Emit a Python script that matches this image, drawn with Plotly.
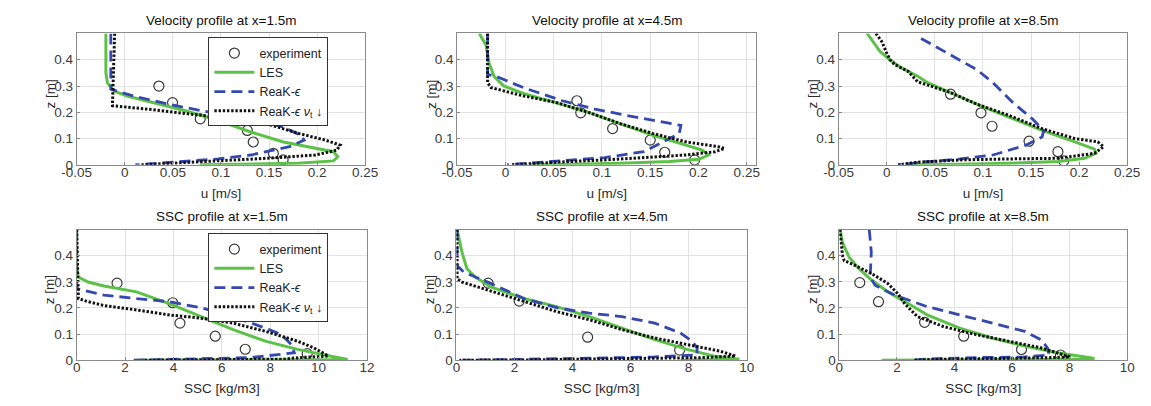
import plotly.graph_objects as go

W, H = 1151, 406

# ---------------- DATA ----------------
# Velocity profile at x=1.5m
v1_exp_u = [0.0355, 0.0497, 0.0785, 0.1275, 0.1336, 0.1545, 0.1647]
v1_exp_z = [0.300, 0.237, 0.175, 0.131, 0.087, 0.044, 0.019]
v1_les_u = [-0.0196, -0.0196, -0.0180, -0.011, 0.0024, 0.0294, 0.063, 0.097, 0.131, 0.165, 0.198, 0.217, 0.2215, 0.217, 0.180, 0.130, 0.078]
v1_les_z = [0.500, 0.350, 0.312, 0.281, 0.262, 0.237, 0.206, 0.169, 0.125, 0.087, 0.062, 0.050, 0.031, 0.015, 0.006, 0.003, 0.000]
v1_rke_u = [-0.0145, -0.0145, -0.0145, 0.0091, 0.053, 0.097, 0.1376, 0.1647, 0.183, 0.1866, 0.1714, 0.131, 0.097, 0.0464, 0.011]
v1_rke_z = [0.500, 0.300, 0.288, 0.262, 0.225, 0.194, 0.169, 0.144, 0.1125, 0.094, 0.069, 0.0375, 0.0225, 0.009, 0.000]
v1_nu_u = [-0.0105, -0.0128, -0.0128, 0.0294, 0.097, 0.148, 0.1815, 0.2087, 0.224, 0.2205, 0.1985, 0.148, 0.097, 0.0464, 0.016]
v1_nu_z = [0.500, 0.231, 0.225, 0.210, 0.181, 0.156, 0.119, 0.094, 0.075, 0.056, 0.0375, 0.025, 0.016, 0.006, 0.000]

# Velocity profile at x=4.5m
v2_exp_u = [0.074, 0.078, 0.111, 0.150, 0.165, 0.196]
v2_exp_z = [0.244, 0.198, 0.138, 0.094, 0.048, 0.019]
v2_les_u = [-0.027, -0.0202, -0.0169, -0.0118, -0.0017, 0.0185, 0.0522, 0.0859, 0.1195, 0.153, 0.1869, 0.2037, 0.2104, 0.2003, 0.170, 0.1195, 0.069, 0.025]
v2_les_z = [0.500, 0.456, 0.387, 0.337, 0.300, 0.272, 0.237, 0.200, 0.156, 0.1125, 0.075, 0.056, 0.0375, 0.021, 0.0125, 0.006, 0.0025, 0.000]
v2_rke_u = [-0.0185, -0.0185, -0.0084, 0.0185, 0.0589, 0.0926, 0.1263, 0.160, 0.1818, 0.180, 0.1633, 0.1431, 0.1027, 0.0522, 0.0017]
v2_rke_z = [0.500, 0.344, 0.335, 0.294, 0.244, 0.2125, 0.1875, 0.165, 0.150, 0.119, 0.0875, 0.050, 0.0275, 0.0125, 0.000]
v2_nu_u = [-0.0185, -0.0185, -0.015, 0.0185, 0.0522, 0.0859, 0.1195, 0.153, 0.1869, 0.2205, 0.227, 0.2172, 0.1869, 0.1465, 0.1027, 0.0522, 0.005]
v2_nu_z = [0.500, 0.3125, 0.294, 0.2625, 0.2375, 0.200, 0.156, 0.119, 0.0875, 0.069, 0.0625, 0.050, 0.0375, 0.0275, 0.01875, 0.010, 0.000]

# Velocity profile at x=8.5m
v3_exp_u = [0.0663, 0.098, 0.1095, 0.148, 0.178, 0.184]
v3_exp_z = [0.269, 0.198, 0.147, 0.090, 0.050, 0.015]
v3_les_u = [-0.0204, -0.0068, 0.0034, 0.0153, 0.0323, 0.0425, 0.0663, 0.0936, 0.1276, 0.1615, 0.1956, 0.216, 0.2177, 0.2058, 0.1786, 0.1276, 0.0765, 0.0187]
v3_les_z = [0.500, 0.431, 0.400, 0.369, 0.3375, 0.3125, 0.275, 0.231, 0.181, 0.131, 0.0875, 0.060, 0.044, 0.025, 0.0125, 0.006, 0.0025, 0.000]
v3_rke_u = [0.0357, 0.063, 0.0936, 0.1105, 0.131, 0.1514, 0.1633, 0.1615, 0.1446, 0.1105, 0.0765, 0.0357, 0.0119]
v3_rke_z = [0.481, 0.425, 0.3625, 0.3125, 0.2375, 0.175, 0.131, 0.106, 0.075, 0.0375, 0.0225, 0.010, 0.000]
v3_nu_u = [-0.0112, -0.0051, 0.000, 0.0034, 0.0085, 0.0221, 0.0323, 0.0663, 0.0936, 0.1276, 0.1615, 0.1956, 0.2194, 0.2255, 0.216, 0.1786, 0.1276, 0.0765, 0.0323, 0.0119]
v3_nu_z = [0.500, 0.469, 0.425, 0.400, 0.381, 0.356, 0.316, 0.275, 0.231, 0.1875, 0.1375, 0.100, 0.0875, 0.069, 0.044, 0.025, 0.0225, 0.01875, 0.010, 0.000]

# SSC profile at x=1.5m
c1_exp_c = [1.67, 3.97, 4.27, 5.73, 6.97, 9.53]
c1_exp_z = [0.295, 0.220, 0.142, 0.092, 0.042, 0.025]
c1_les_c = [0.0, 0.0, 0.07, 0.47, 1.13, 2.47, 3.80, 5.13, 6.47, 7.80, 9.13, 10.47, 11.07, 11.2, 2.5]
c1_les_z = [0.500, 0.350, 0.318, 0.299, 0.284, 0.2615, 0.2175, 0.167, 0.117, 0.073, 0.0415, 0.016, 0.0075, 0.003, 0.000]
c1_rke_c = [0.0, 0.0, 0.07, 1.13, 2.47, 3.80, 5.13, 6.47, 7.80, 8.47, 8.87, 9.00, 7.20, 4.80, 2.80, 2.33]
c1_rke_z = [0.500, 0.280, 0.272, 0.249, 0.236, 0.224, 0.201, 0.167, 0.123, 0.098, 0.060, 0.0287, 0.010, 0.006, 0.002, 0.000]
c1_nu_c = [0.0, 0.07, 0.47, 1.13, 2.47, 3.80, 5.13, 6.47, 7.80, 9.13, 9.80, 10.40, 9.20, 8.53, 6.80, 4.13, 2.80]
c1_nu_z = [0.500, 0.236, 0.224, 0.209, 0.1925, 0.1736, 0.161, 0.142, 0.1106, 0.073, 0.0475, 0.016, 0.010, 0.004, 0.003, 0.002, 0.000]

# SSC profile at x=4.5m
c2_exp_c = [1.09, 2.16, 4.52, 7.69]
c2_exp_z = [0.295, 0.226, 0.088, 0.039]
c2_les_c = [0.02, 0.19, 0.36, 0.64, 1.20, 2.33, 3.45, 4.58, 5.70, 6.83, 7.95, 8.85, 9.75, 7.72]
c2_les_z = [0.500, 0.4125, 0.350, 0.318, 0.280, 0.236, 0.205, 0.167, 0.123, 0.079, 0.0415, 0.016, 0.004, 0.000]
c2_rke_c = [0.02, 0.02, 0.25, 1.20, 2.33, 3.45, 4.58, 5.70, 6.83, 7.72, 8.12, 8.29, 8.29, 6.83, 4.58, 3.00, 0.20]
c2_rke_z = [0.500, 0.362, 0.337, 0.293, 0.236, 0.201, 0.180, 0.167, 0.142, 0.104, 0.073, 0.0475, 0.020, 0.0125, 0.0075, 0.004, 0.000]
c2_nu_c = [0.02, 0.02, 0.19, 1.20, 2.33, 3.45, 4.58, 5.70, 6.83, 7.95, 9.07, 9.62, 8.51, 6.83, 4.58, 2.33, 0.10]
c2_nu_z = [0.500, 0.312, 0.299, 0.264, 0.224, 0.186, 0.155, 0.117, 0.085, 0.060, 0.035, 0.016, 0.010, 0.0075, 0.004, 0.001, 0.000]

# SSC profile at x=8.5m
c3_exp_c = [0.71, 1.36, 2.96, 4.32, 6.33, 7.68]
c3_exp_z = [0.297, 0.224, 0.145, 0.092, 0.041, 0.020]
c3_les_c = [0.02, 0.11, 0.34, 0.68, 1.13, 1.69, 2.48, 3.05, 4.18, 5.31, 6.44, 7.57, 8.81, 8.85, 1.47]
c3_les_z = [0.500, 0.450, 0.394, 0.350, 0.306, 0.2615, 0.211, 0.1736, 0.123, 0.085, 0.054, 0.0287, 0.0075, 0.004, 0.000]
c3_rke_c = [1.04, 1.11, 1.07, 1.24, 1.92, 3.05, 4.18, 5.31, 6.44, 7.00, 7.23, 7.29, 6.44, 4.75, 3.05, 2.60]
c3_rke_z = [0.500, 0.4125, 0.318, 0.287, 0.249, 0.205, 0.1736, 0.142, 0.1106, 0.079, 0.0475, 0.020, 0.0125, 0.010, 0.005, 0.000]
c3_nu_c = [0.02, 0.11, 0.17, 0.45, 1.13, 1.69, 2.03, 2.26, 2.71, 3.61, 4.75, 5.87, 7.00, 7.80, 8.02, 7.34, 5.31, 3.05, 2.60]
c3_nu_z = [0.500, 0.400, 0.381, 0.368, 0.331, 0.293, 0.255, 0.2175, 0.167, 0.129, 0.098, 0.073, 0.0475, 0.020, 0.0125, 0.010, 0.0075, 0.0023, 0.000]

# Axis ticks / titles
titles = ["Velocity profile at x=1.5m", "Velocity profile at x=4.5m", "Velocity profile at x=8.5m",
          "SSC profile at x=1.5m", "SSC profile at x=4.5m", "SSC profile at x=8.5m"]
u_ticks = [-0.05, 0, 0.05, 0.1, 0.15, 0.2, 0.25]
u_ticktext = ["-0.05", "0", "0.05", "0.1", "0.15", "0.2", "0.25"]
ssc12_ticks = [0, 2, 4, 6, 8, 10, 12]
ssc10_ticks = [0, 2, 4, 6, 8, 10]
z_ticks = [0, 0.1, 0.2, 0.3, 0.4]
z_ticktext = ["0", "0.1", "0.2", "0.3", "0.4"]
legend_names = ["experiment", "LES", "ReaK-<i>ϵ</i>", "ReaK-<i>ϵ</i> <i>ν</i><sub>t</sub> ↓"]

panels = [
    (v1_exp_u, v1_exp_z, v1_les_u, v1_les_z, v1_rke_u, v1_rke_z, v1_nu_u, v1_nu_z),
    (v2_exp_u, v2_exp_z, v2_les_u, v2_les_z, v2_rke_u, v2_rke_z, v2_nu_u, v2_nu_z),
    (v3_exp_u, v3_exp_z, v3_les_u, v3_les_z, v3_rke_u, v3_rke_z, v3_nu_u, v3_nu_z),
    (c1_exp_c, c1_exp_z, c1_les_c, c1_les_z, c1_rke_c, c1_rke_z, c1_nu_c, c1_nu_z),
    (c2_exp_c, c2_exp_z, c2_les_c, c2_les_z, c2_rke_c, c2_rke_z, c2_nu_c, c2_nu_z),
    (c3_exp_c, c3_exp_z, c3_les_c, c3_les_z, c3_rke_c, c3_rke_z, c3_nu_c, c3_nu_z),
]

# ---------------- STYLE / LAYOUT ----------------
FONT = "Liberation Sans, Arial, sans-serif"
GREEN = "#5cc247"
BLUE = "#3448b0"
BLACK = "#111111"
EXPC = "#3a3a3a"

# pixel boxes (left, right, top, bottom)
boxes = [
    (55, 350.7, 26, 160), (445, 751.7, 26, 160), (836, 1131.7, 26, 160),
    (55, 352.5, 226, 359.3), (444.3, 741.7, 226, 359.3), (836.7, 1131.7, 226, 359.3),
]
xranges = [[-0.05, 0.25], [-0.05, 0.26], [-0.05, 0.25], [0, 12], [0, 10], [0, 10]]

fig = go.Figure()

for i, p in enumerate(panels):
    xa = "x" if i == 0 else f"x{i+1}"
    ya = "y" if i == 0 else f"y{i+1}"
    show = i in (0, 3)
    leg = "legend" if i < 3 else "legend2"
    ex, ez, lx, lz, rx, rz, nx, nz = p
    fig.add_trace(go.Scatter(x=ex, y=ez, mode="markers", name=legend_names[0],
                             marker=dict(symbol="circle-open", size=10, color=EXPC, line=dict(width=1.2, color=EXPC)),
                             xaxis=xa, yaxis=ya, showlegend=show, legend=leg))
    fig.add_trace(go.Scatter(x=lx, y=lz, mode="lines", name=legend_names[1],
                             line=dict(color=GREEN, width=3),
                             xaxis=xa, yaxis=ya, showlegend=show, legend=leg))
    fig.add_trace(go.Scatter(x=rx, y=rz, mode="lines", name=legend_names[2],
                             line=dict(color=BLUE, width=2.8, dash="11px,6px"),
                             xaxis=xa, yaxis=ya, showlegend=show, legend=leg))
    fig.add_trace(go.Scatter(x=nx, y=nz, mode="lines", name=legend_names[3],
                             line=dict(color=BLACK, width=3, dash="2.4px,1.8px"),
                             xaxis=xa, yaxis=ya, showlegend=show, legend=leg))

axis_common = dict(showline=True, linecolor="#8a8a8a", linewidth=1, mirror=True,
                   showgrid=True, gridcolor="#e2e2e2", gridwidth=1, zeroline=False,
                   ticks="inside", ticklen=3, tickcolor="#8a8a8a",
                   tickfont=dict(family=FONT, size=13.5, color="#3a3a3a"),
                   title_font=dict(family=FONT, size=13.5, color="#2a2a2a"))

layout = dict(width=W, height=H, margin=dict(l=0, r=0, t=0, b=0), autosize=False,
              paper_bgcolor="white", plot_bgcolor="white",
              font=dict(family=FONT, size=13, color="#222222"))
annotations = []
for i, (l, r, t, b) in enumerate(boxes):
    xk = "xaxis" if i == 0 else f"xaxis{i+1}"
    yk = "yaxis" if i == 0 else f"yaxis{i+1}"
    xa = "x" if i == 0 else f"x{i+1}"
    ya = "y" if i == 0 else f"y{i+1}"
    xd = [l / W, r / W]
    yd = [1 - b / H, 1 - t / H]
    if i < 3:
        xt = dict(tickvals=u_ticks, ticktext=u_ticktext, title=dict(text="u [m/s]", standoff=9))
    else:
        tv = ssc12_ticks if i == 3 else ssc10_ticks
        xt = dict(tickvals=tv, ticktext=[str(v) for v in tv], title=dict(text="SSC [kg/m3]", standoff=9))
    layout[xk] = dict(axis_common, domain=xd, range=xranges[i], anchor=ya, ticklabelstandoff=-5, **xt)
    layout[yk] = dict(axis_common, domain=yd, range=[0, 0.5], anchor=xa,
                      tickvals=z_ticks, ticktext=z_ticktext)
    annotations.append(dict(text=titles[i], x=(xd[0] + xd[1]) / 2, y=1 - (t - 13) / H,
                            xref="paper", yref="paper", xanchor="center", yanchor="middle",
                            showarrow=False, font=dict(family=FONT, size=13.5, color="#111111")))
    # y-axis title
    annotations.append(dict(text="z [m]", x=(l - 27) / W, y=1 - ((t + b) / 2 - 5) / H,
                            xref="paper", yref="paper", xanchor="center", yanchor="middle",
                            textangle=-90, showarrow=False,
                            font=dict(family=FONT, size=13.5, color="#2a2a2a")))
layout["annotations"] = annotations

leg_common = dict(xanchor="left", yanchor="top", bgcolor="white", bordercolor="#333333",
                  borderwidth=1, font=dict(family=FONT, size=12.5, color="#222222"),
                  itemwidth=40, tracegroupgap=0)
layout["legend"] = dict(leg_common, x=190 / W, y=1 - 30 / H)
layout["legend2"] = dict(leg_common, x=190 / W, y=1 - 230 / H)

fig.update_layout(**layout)
fig.write_html("out.html")
